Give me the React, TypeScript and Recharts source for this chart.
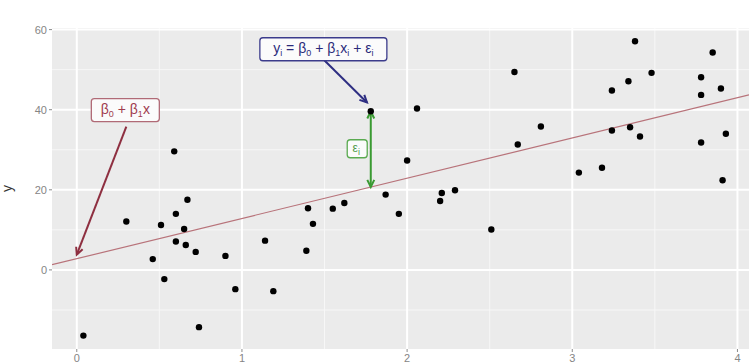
import { ScatterChart, Scatter, XAxis, YAxis, CartesianGrid, ReferenceLine, ReferenceDot } from "recharts";

const xValues = [
  0.04, 0.3, 0.59, 0.46, 0.51, 0.53, 0.6, 0.6, 0.65, 0.67, 0.66, 0.72, 0.74, 0.9, 0.96,
  1.78, 2.06, 2.0, 1.87, 1.95, 1.4, 1.55, 1.62, 1.43, 1.14, 1.39, 1.19,
  3.38, 3.85, 2.65, 3.48, 3.34, 3.78, 3.24, 3.78, 3.9, 2.81, 3.24, 3.35, 3.41, 3.93,
  2.67, 3.78, 3.04, 3.18, 3.91, 2.21, 2.2, 2.29, 2.51,
];
const yValues = [
  -16.4, 12.1, 29.6, 2.7, 11.2, -2.3, 14, 7.1, 10.2, 17.5, 6.2, 4.5, -14.3, 3.5, -4.8,
  39.6, 40.3, 27.3, 18.8, 14, 15.4, 15.3, 16.7, 11.5, 7.3, 4.8, -5.3,
  57.1, 54.3, 49.4, 49.2, 47.1, 48.1, 44.8, 43.7, 45.3, 35.8, 34.8, 35.6, 33.3, 34,
  31.3, 31.8, 24.3, 25.5, 22.4, 19.2, 17.2, 19.9, 10.1,
];
const highlightIndex = 15;

// fitted line y = b0 + b1 x
const INTERCEPT = 2.8;
const SLOPE = 10.05;

const xDomain = [-0.15, 4.07];
const yDomain = [-19.75, 60.4];
const xTicks = [0, 1, 2, 3, 4];
const yTicks = [0, 20, 40, 60];
const xMinor = [0.5, 1.5, 2.5, 3.5];
const yMinor = [-10, 10, 30, 50];

// annotation anchors (data space)
const lineLabelAt = { x: 0.294, y: 39.9 };
const lineArrow = [{ x: 0.3, y: 35.8 }, { x: 0.0, y: 3.8 }];
const modelLabelAt = { x: 1.493, y: 55.1 };
const modelArrow = [{ x: 1.5, y: 52.3 }, { x: 1.757, y: 41.8 }];
const residLabelAt = { x: 1.698, y: 30.25 };

const points = xValues.map((x, i) => ({ x, y: yValues[i] }));
const fit = (x: number) => INTERCEPT + SLOPE * x;
const hx = xValues[highlightIndex];
const hy = yValues[highlightIndex];

const FONT = "'Liberation Sans', Arial, sans-serif";

function arrowHead(tx: number, ty: number, fx: number, fy: number) {
  const a = Math.atan2(ty - fy, tx - fx);
  const L = 8;
  const s = Math.PI / 7;
  return `M${tx - L * Math.cos(a - s)},${ty - L * Math.sin(a - s)} L${tx},${ty} L${tx - L * Math.cos(a + s)},${ty - L * Math.sin(a + s)}`;
}

const arrow = (color: string, both: boolean) => (p: any) => {
  const { x1, y1, x2, y2 } = p;
  return (
    <g>
      <line x1={x1} y1={y1} x2={x2} y2={y2} stroke={color} strokeWidth={2} />
      <path d={arrowHead(x2, y2, x1, y1)} fill="none" stroke={color} strokeWidth={2} />
      {both && <path d={arrowHead(x1, y1, x2, y2)} fill="none" stroke={color} strokeWidth={2} />}
    </g>
  );
};

const labelBox = (w: number, h: number, stroke: string, content: (cx: number, cy: number) => any) => (p: any) => {
  const { cx, cy } = p;
  return (
    <g>
      <rect x={cx - w / 2} y={cy - h / 2} width={w} height={h} rx={3} fill="#FBFBFB" stroke={stroke} strokeWidth={1.3} />
      {content(cx, cy)}
    </g>
  );
};

const sub = (t: string) => (
  <tspan fontSize={9} dy={3}>
    {t}
  </tspan>
);
const up = (t: string) => <tspan dy={-3}>{t}</tspan>;

export default function App() {
  return (
    <div style={{ position: "absolute", left: 0, top: 0, fontFamily: FONT }}>
      <ScatterChart width={749} height={362} margin={{ top: 28, right: 0, bottom: 0, left: 0 }}>
        <CartesianGrid
          fill="#EBEBEB"
          stroke="#F7F7F7"
          strokeWidth={1}
          horizontalValues={yMinor}
          verticalValues={xMinor}
          syncWithTicks
        />
        <CartesianGrid stroke="#FFFFFF" strokeWidth={2} horizontalValues={yTicks} verticalValues={xTicks} syncWithTicks />
        <XAxis
          type="number"
          dataKey="x"
          domain={xDomain}
          ticks={xTicks}
          allowDataOverflow
          height={13}
          axisLine={false}
          tickSize={3}
          tickMargin={2}
          tickLine={{ stroke: "#8A8A8A" }}
          tick={{ fill: "#858585", fontSize: 11, fontFamily: FONT }}
        />
        <YAxis
          type="number"
          dataKey="y"
          domain={yDomain}
          ticks={yTicks}
          allowDataOverflow
          width={52}
          axisLine={false}
          tickSize={3}
          tickMargin={2}
          tickLine={{ stroke: "#8A8A8A" }}
          tick={{ fill: "#858585", fontSize: 11, fontFamily: FONT }}
          label={(p: any) => {
            const vb = p.viewBox || { x: 0, y: 28, height: 321 };
            const y = vb.y + vb.height / 2;
            return (
              <text x={12} y={y} transform={`rotate(-90, 12, ${y})`} textAnchor="middle" fontSize={14} fill="#333" fontFamily={FONT}>
                y
              </text>
            );
          }}
        />
        <Scatter
          data={points}
          isAnimationActive={false}
          shape={(p: any) => <circle cx={p.cx} cy={p.cy} r={3.2} fill="#000" />}
        />
        <ReferenceLine
          segment={[
            { x: xDomain[0], y: fit(xDomain[0]) },
            { x: xDomain[1], y: fit(xDomain[1]) },
          ]}
          stroke="#B8737A"
          strokeWidth={1.2}
          ifOverflow="hidden"
        />
        <ReferenceLine segment={lineArrow} ifOverflow="visible" shape={arrow("#8E2F40", false)} />
        <ReferenceLine segment={modelArrow} ifOverflow="visible" shape={arrow("#2E2E82", false)} />
        <ReferenceLine
          segment={[
            { x: hx, y: hy },
            { x: hx, y: fit(hx) },
          ]}
          ifOverflow="visible"
          shape={arrow("#3A9A32", true)}
        />
        <ReferenceDot
          x={lineLabelAt.x}
          y={lineLabelAt.y}
          ifOverflow="visible"
          shape={labelBox(68, 23, "#B06A76", (cx, cy) => (
            <text x={cx} y={cy + 4} textAnchor="middle" fontSize={14} fill="#A03C4E" fontFamily={FONT}>
              β{sub("0")}
              {up(" + β")}
              {sub("1")}
              {up("x")}
            </text>
          ))}
        />
        <ReferenceDot
          x={modelLabelAt.x}
          y={modelLabelAt.y}
          ifOverflow="visible"
          shape={labelBox(127, 23, "#3C3C8C", (cx, cy) => (
            <text x={cx} y={cy + 4} textAnchor="middle" fontSize={14} fill="#2A2A7A" fontFamily={FONT}>
              y{sub("i")}
              {up(" = β")}
              {sub("0")}
              {up(" + β")}
              {sub("1")}
              {up("x")}
              {sub("i")}
              {up(" + ε")}
              {sub("i")}
            </text>
          ))}
        />
        <ReferenceDot
          x={residLabelAt.x}
          y={residLabelAt.y}
          ifOverflow="visible"
          shape={labelBox(20, 18, "#5AAA50", (cx, cy) => (
            <text x={cx - 1} y={cy + 3} textAnchor="middle" fontSize={12} fill="#4E9A46" fontFamily={FONT}>
              ε{sub("i")}
            </text>
          ))}
        />
      </ScatterChart>
    </div>
  );
}
